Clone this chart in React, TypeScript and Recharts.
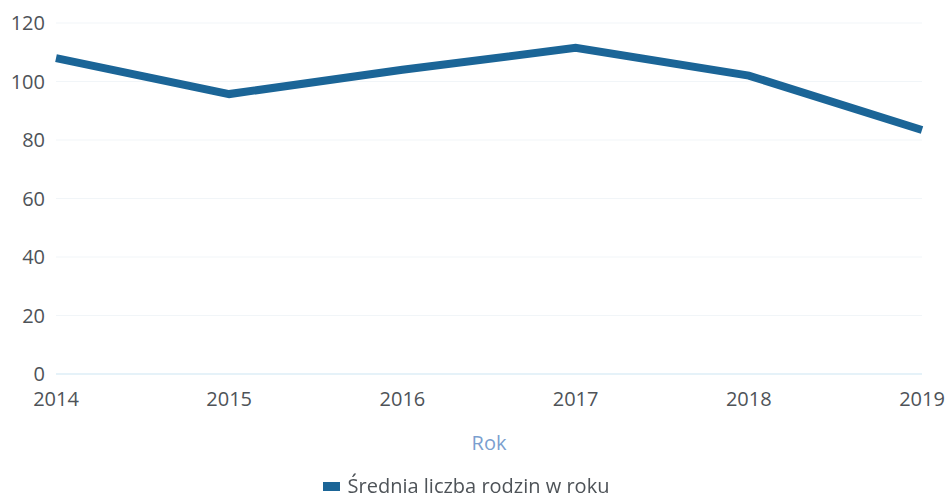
import type { ReactElement } from "react";
import { LineChart, Line, XAxis, YAxis, CartesianGrid, Legend } from "recharts";

const years = ["2014", "2015", "2016", "2017", "2018", "2019"];
const families = [108, 95.7, 104, 111.5, 102, 83.4];
const yTicks = [0, 20, 40, 60, 80, 100, 120];

const seriesName = "Średnia liczba rodzin w roku";
const axisTitle = "Rok";

const LINE = "#1b6597";
const TEXT = "#4e5358";
const FONT = "'Open Sans', sans-serif";

const rows = years.map((year, i) => ({ year, value: families[i] }));

function LegendBox(): ReactElement {
  return (
    <div
      style={{
        height: 46,
        boxSizing: "border-box",
        paddingTop: 22,
        paddingLeft: 10,
        display: "flex",
        justifyContent: "center",
        alignItems: "center",
        fontFamily: FONT,
        fontSize: 20,
        color: TEXT,
      }}
    >
      <span style={{ display: "inline-block", width: 17, height: 9, background: LINE, marginRight: 8 }} />
      <span style={{ lineHeight: "24px" }}>{seriesName}</span>
    </div>
  );
}

export default function App(): ReactElement {
  return (
    <div style={{ position: "fixed", left: 0, top: 0, width: 948, height: 498, background: "#fff" }}>
      <LineChart width={948} height={498} data={rows} margin={{ top: 23, right: 26, bottom: 0, left: 0 }}>
        <CartesianGrid vertical={false} stroke="#f1f5f8" />
        <XAxis
          dataKey="year"
          height={78}
          tickLine={false}
          axisLine={{ stroke: "#d3eaf6" }}
          tickMargin={12}
          tick={{ fill: TEXT, fontSize: 20, fontFamily: FONT }}
          label={{ value: axisTitle, position: "insideBottom", offset: 2, fill: "#7b9fcf", fontSize: 20, fontFamily: FONT }}
        />
        <YAxis
          width={56}
          domain={[0, 120]}
          ticks={yTicks}
          axisLine={false}
          tickLine={false}
          tickMargin={5}
          tick={{ fill: TEXT, fontSize: 20, fontFamily: FONT }}
        />
        <Legend verticalAlign="bottom" content={() => <LegendBox />} />
        <Line
          type="linear"
          dataKey="value"
          name={seriesName}
          stroke={LINE}
          strokeWidth={8}
          dot={false}
          activeDot={false}
          isAnimationActive={false}
        />
      </LineChart>
    </div>
  );
}
